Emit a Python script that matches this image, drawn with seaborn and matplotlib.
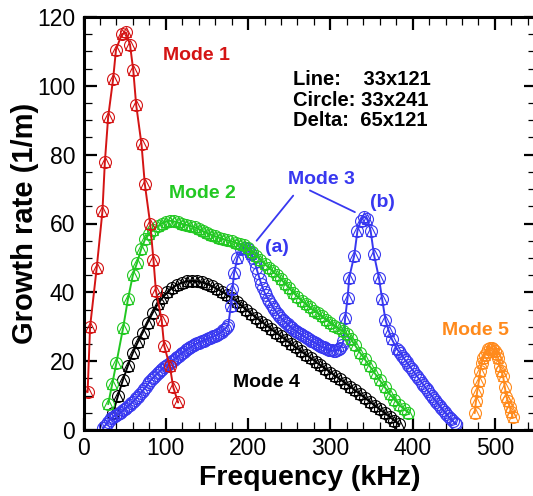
import matplotlib
matplotlib.use("Agg")
import matplotlib.pyplot as plt
from matplotlib.ticker import MultipleLocator
import seaborn as sns

# ---- data ----
mode1_freq = [5, 8, 16, 23, 26, 30, 36, 39.5, 46.5, 51.5, 56.5, 60.5, 64, 70.5, 74.5, 81, 85, 88, 95, 98, 105, 109, 115]
mode1_rate = [11, 30, 47, 63.5, 78, 91, 102, 110.5, 115, 115.5, 112, 104.5, 94.5, 83, 71.5, 60, 49.5, 40.5, 32, 24.5, 18.5, 12.5, 8]

mode2_freq = [30, 35, 40, 48, 54, 60, 65, 70, 75, 80, 85, 90, 95, 100, 105, 110, 115, 120, 125, 130,
              135, 140, 145, 150, 155, 160, 165, 170, 175, 180, 185, 190, 195, 200, 205, 210, 215, 220,
              225, 230, 235, 240, 245, 250, 255, 260, 265, 270, 275, 280, 285, 290, 295, 300, 305, 310,
              315, 320, 325, 330, 336, 342, 348, 354, 360, 366, 372, 378, 384, 390, 395]
mode2_rate = [7.5, 13.5, 19.5, 29.5, 38, 45, 48.5, 52.5, 55.5, 57, 58.2, 59.2, 60, 60.5, 60.8, 60.6, 60.3,
              59.9, 59.6, 59.3, 58.9, 58.4, 57.8, 57.3, 56.8, 56.3, 55.9, 55.5, 55.1, 54.8, 54.4, 54.1,
              53.8, 52.8, 51.6, 50.5, 49.5, 48.3, 47.2, 46.1, 45, 43.8, 42.5, 41.2, 39.9, 38.7, 37.6, 36.6,
              35.6, 34.7, 33.9, 33, 32.1, 31.2, 30.3, 29.5, 28.7, 27.8, 26.4, 24.6, 22.5, 20.5, 18.5, 16.5,
              14.5, 12.5, 10.5, 8.8, 7.2, 6, 5]

# mode 3, piece by piece: low branch, jump to (a), branch after (a), jump to (b), tail
mode3_low_freq = list(range(24, 177, 2))
mode3_low_rate = [0.5, 1.2, 1.8, 2.4, 3, 3.4, 3.8, 4.1, 4.4, 4.7, 5, 5.3, 5.7, 6.1, 6.5, 6.9, 7.3, 7.7,
                  8.2, 8.7, 9.2, 9.7, 10.2, 10.8, 11.4, 12, 12.6, 13.3, 13.9, 14.5, 15, 15.5, 16, 16.5,
                  16.9, 17.4, 17.8, 18.2, 18.6, 19, 19.3, 19.7, 20, 20.4, 20.8, 21.2, 21.6, 22, 22.4,
                  22.8, 23.1, 23.4, 23.7, 24, 24.3, 24.6, 24.9, 25.2, 25.4, 25.6, 25.8, 26, 26.2, 26.4,
                  26.6, 26.8, 27, 27.2, 27.4, 27.6, 27.9, 28.2, 28.6, 29, 29.4, 29.9, 30.5]
mode3_a_freq = [179, 181, 183, 187, 192, 196]
mode3_a_rate = [36, 41, 45.5, 50, 52.5, 53]
mode3_mid_freq = list(range(200, 317, 2))
mode3_mid_rate = [52.5, 51.8, 51, 50, 48.7, 47.1, 45.5, 44, 42.5, 41.2, 40, 39.1, 38.2, 37.4, 36.6, 35.8,
                  35.1, 34.4, 33.7, 33.1, 32.6, 32.1, 31.6, 31.2, 30.7, 30.3, 29.9, 29.5, 29.1, 28.8,
                  28.4, 28.1, 27.8, 27.5, 27.2, 26.9, 26.6, 26.3, 26, 25.8, 25.5, 25.2, 24.9, 24.7, 24.4,
                  24.2, 24, 23.7, 23.5, 23.3, 23.2, 23.1, 23, 23, 23.1, 23.4, 23.9, 24.6, 26]
mode3_b_freq = [318, 321, 323, 329, 333, 337, 341, 345, 349, 353, 359, 363, 367, 371, 375]
mode3_b_rate = [32.5, 38.4, 44.3, 50.6, 57.9, 60.8, 62, 61.3, 57.9, 51, 44.3, 38, 32, 28.8, 26.3]
mode3_tail_freq = list(range(381, 454, 2))
mode3_tail_rate = [23.5, 22.9, 22.3, 21.6, 21, 20.3, 19.7, 19, 18.4, 17.7, 17.1, 16.4, 15.8, 15.1, 14.5,
                   13.8, 13.2, 12.5, 11.9, 11.2, 10.6, 10, 9.4, 8.8, 8.2, 7.6, 7, 6.4, 5.8, 5.2, 4.7,
                   4.1, 3.6, 3.1, 2.6, 2.1, 1.7]

mode4_freq = [36, 42, 48, 54, 60, 66, 72, 78, 84, 90, 96, 102, 108, 114, 120, 126, 132, 138, 144, 150,
              156, 162, 168, 174, 180, 186, 192, 198, 204, 210, 216, 222, 228, 234, 240, 246, 252, 258,
              264, 270, 276, 282, 288, 294, 300, 306, 312, 318, 324, 330, 336, 342, 348, 354, 360, 366,
              372, 378, 384]
mode4_rate = [5, 10, 14.6, 18.7, 22.4, 25.5, 28.3, 31.2, 34, 36.5, 38.4, 40, 41.3, 42.2, 42.8, 43.2, 43.3,
              43.2, 42.9, 42.4, 41.8, 41, 40.2, 39.3, 38.3, 37.2, 36.1, 34.9, 33.7, 32.6, 31.5, 30.4, 29.3,
              28.2, 27.2, 26.1, 25, 24, 22.9, 21.9, 20.9, 19.8, 18.8, 17.8, 16.7, 15.7, 14.7, 13.6, 12.6,
              11.5, 10.4, 9.3, 8.2, 7.1, 6, 4.9, 3.8, 2.7, 1.6]

mode5_freq = [475.5, 477, 478.5, 480.5, 482, 484, 486, 488, 490, 492, 494, 496, 498, 500, 502, 504, 506,
              508, 510, 512, 514, 516, 518, 520, 521.5]
mode5_rate = [4.9, 8.3, 11.2, 14.1, 17, 19.5, 20.8, 21.9, 22.8, 23.5, 23.8, 23.8, 23.5, 22.9, 22, 20.9,
              18.5, 17.1, 15.6, 12.6, 9.7, 8.3, 6.8, 5.2, 3.9]

RED = "#d41414"
GREEN = "#22c822"
BLUE = "#3838f0"
BLACK = "#000000"
ORANGE = "#ff8a1c"

sns.set_style("ticks", {"axes.edgecolor": "black", "xtick.color": "black", "ytick.color": "black",
                        "text.color": "black", "axes.labelcolor": "black"})
plt.rcParams["font.family"] = ["Liberation Sans", "DejaVu Sans"]


def draw_mode(ax, x, y, color, xd=None, yd=None):
    if xd is None:
        xd, yd = x, y
    sns.lineplot(x=x, y=y, ax=ax, color=color, lw=1.4, sort=False, estimator=None, errorbar=None)
    sns.lineplot(x=x, y=y, ax=ax, color=color, linestyle="none", marker="o", markersize=8.6,
                 markerfacecolor="none", markeredgecolor=color, markeredgewidth=0.8,
                 sort=False, estimator=None, errorbar=None)
    sns.lineplot(x=xd, y=yd, ax=ax, color=color, linestyle="none", marker="^", markersize=7,
                 markerfacecolor="none", markeredgecolor=color, markeredgewidth=0.8,
                 sort=False, estimator=None, errorbar=None)


fig = plt.figure(figsize=(5.33, 4.96), dpi=100)
ax = fig.add_axes([83.5 / 533, 66 / 496, 452.5 / 533, 413 / 496])

mode3_freq = mode3_low_freq + mode3_a_freq + mode3_mid_freq + mode3_b_freq + mode3_tail_freq
mode3_rate = mode3_low_rate + mode3_a_rate + mode3_mid_rate + mode3_b_rate + mode3_tail_rate
# triangles only show on the two jumps and around the peaks
mode3_delta_freq = mode3_a_freq + mode3_mid_freq[:3] + mode3_b_freq + mode3_tail_freq[:1]
mode3_delta_rate = mode3_a_rate + mode3_mid_rate[:3] + mode3_b_rate + mode3_tail_rate[:1]

draw_mode(ax, mode4_freq, mode4_rate, BLACK)
draw_mode(ax, mode3_freq, mode3_rate, BLUE, mode3_delta_freq, mode3_delta_rate)
draw_mode(ax, mode2_freq, mode2_rate, GREEN)
draw_mode(ax, mode1_freq, mode1_rate, RED)
draw_mode(ax, mode5_freq, mode5_rate, ORANGE)

ax.set_xlim(0, 550)
ax.set_ylim(0, 120)
ax.xaxis.set_major_locator(MultipleLocator(100))
ax.xaxis.set_minor_locator(MultipleLocator(20))
ax.yaxis.set_major_locator(MultipleLocator(20))
ax.yaxis.set_minor_locator(MultipleLocator(5))
ax.tick_params(which="both", direction="in", top=True, right=True, labelsize=16.5)
ax.tick_params(which="major", length=9, width=1.6)
ax.tick_params(which="minor", length=5.5, width=0.9)
ax.tick_params(axis="x", pad=5)
ax.tick_params(axis="y", pad=6)
for s in ax.spines.values():
    s.set_linewidth(2.2)

ax.set_xlabel("Frequency (kHz)", fontsize=20.5, fontweight="bold")
ax.set_ylabel("Growth rate (1/m)", fontsize=21, fontweight="bold")
ax.xaxis.label.set_va("baseline")
ax.xaxis.set_label_coords(0.5, -55 / 413)
ax.yaxis.label.set_va("baseline")
ax.yaxis.set_label_coords(-50.5 / 452.5, 0.5)

lab = dict(fontsize=14, fontweight="bold", va="baseline", ha="left")
ax.text(96.2, 107.5, "Mode 1", color=RED, **lab)
ax.text(104.3, 67.4, "Mode 2", color=GREEN, **lab)
ax.text(248.8, 71.5, "Mode 3", color=BLUE, **lab)
ax.text(348.1, 64.7, "(b)", color=BLUE, **lab)
ax.text(220.5, 51.6, "(a)", color=BLUE, **lab)
ax.text(182, 12.6, "Mode 4", color=BLACK, **lab)
ax.text(436, 27.5, "Mode 5", color=ORANGE, **lab)
ax.annotate("", xy=(210.4, 55.0), xytext=(254.9, 68.1),
            arrowprops=dict(arrowstyle="-", color=BLUE, lw=1.3, shrinkA=0, shrinkB=0))
ax.annotate("", xy=(329.9, 63.3), xytext=(275.2, 69.6),
            arrowprops=dict(arrowstyle="-", color=BLUE, lw=1.3, shrinkA=0, shrinkB=0))

info = dict(fontsize=14.5, fontweight="bold", va="baseline", ha="left", color="black")
ax.text(254.6, 100.1, "Line:    33x121", **info)
ax.text(254.6, 94.2, "Circle: 33x241", **info)
ax.text(254.6, 88.3, "Delta:  65x121", **info)

fig.savefig("out.png", dpi=100)
